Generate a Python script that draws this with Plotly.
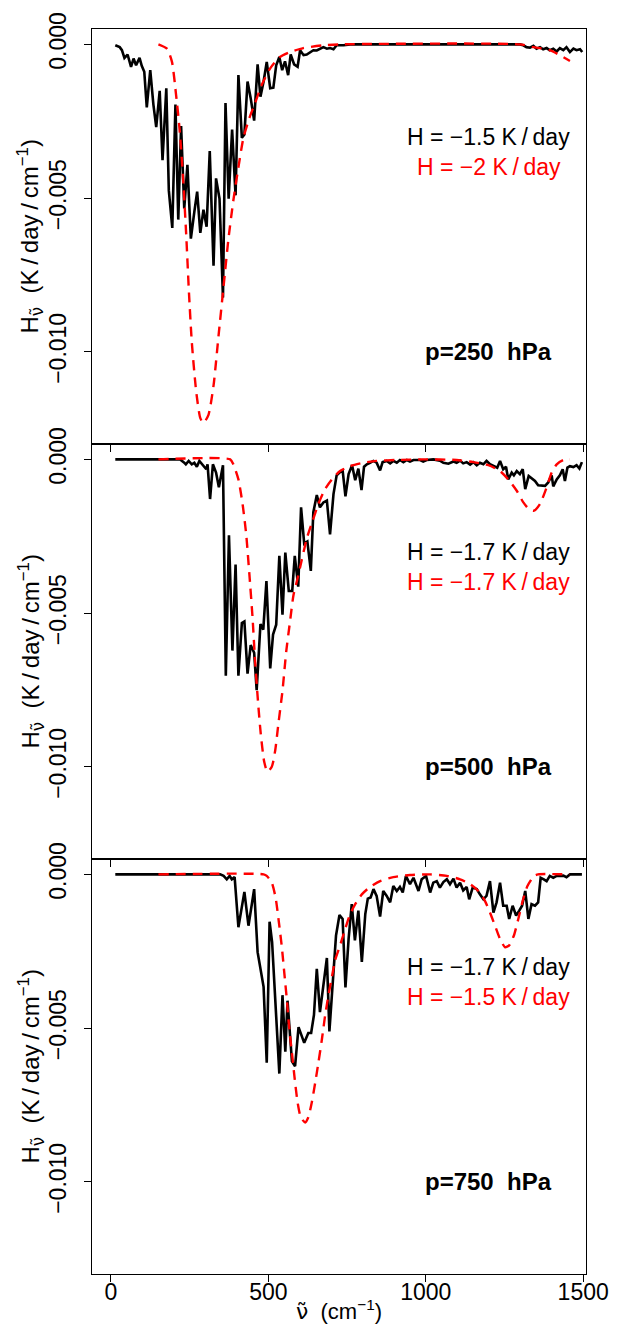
import plotly.graph_objects as go
from plotly.subplots import make_subplots

# ---------------- data (y in units of 1e-3 K/day/cm^-1) ----------------
p250_black_x = [14, 28, 35, 43, 53, 64, 72, 80, 91, 98, 106, 114, 125, 135, 144, 155, 164, 176, 184, 195,
                205, 214, 223, 233, 243, 254, 265, 274, 284, 294, 304, 314, 326, 334, 345, 356, 364, 374, 385, 396,
                405, 416, 424, 434, 444, 455, 466, 475, 485, 495, 506, 516, 525, 535, 544, 553, 563, 571, 582, 593,
                601, 612, 622, 633, 643, 654, 664, 675, 686, 696, 707, 717, 739, 760, 850, 950, 1050, 1150, 1250, 1299,
                1310, 1320, 1331, 1342, 1352, 1363, 1373, 1384, 1394, 1405, 1416, 1426, 1437, 1447, 1458, 1469, 1479, 1490, 1497]
p250_black_y = [-0.03, -0.09, -0.19, -0.44, -0.33, -0.73, -0.46, -0.68, -0.44, -0.70,
                -0.89, -2.05, -0.84, -1.96, -2.69, -1.51, -3.77, -1.43, -4.75, -5.97,
                -1.96, -5.70, -2.66, -5.34, -3.92, -6.32, -5.45, -4.79, -6.13, -5.38,
                -5.93, -3.47, -7.20, -4.36, -5.02, -8.24, -1.91, -5.02, -2.77, -4.91,
                -1.00, -3.04, -2.93, -1.21, -1.75, -2.48, -0.65, -1.70, -1.21, -0.57,
                -1.43, -1.41, -0.68, -0.41, -0.84, -0.55, -1.00, -0.33, -0.65, -0.73,
                -0.19, -0.35, -0.33, -0.27, -0.19, -0.20, -0.14, -0.09, -0.14, -0.12,
                -0.16, -0.03, -0.03, 0, 0, 0, 0, 0, 0, 0,
                -0.03, -0.09, -0.11, -0.05, -0.14, -0.09, -0.16, -0.12, -0.19, -0.14,
                -0.23, -0.12, -0.19, -0.09, -0.25, -0.14, -0.19, -0.16, -0.25]
p250_red_x = [151, 178, 194, 207, 218, 229, 239, 248, 257, 271, 284, 294, 310, 326, 342, 358, 373, 389, 405, 421,
              440, 458, 479, 506, 537, 569, 611, 675, 728, 1299, 1342, 1394, 1458]
p250_red_y = [0, -0.14, -0.57, -1.64, -2.74, -4.32, -6.15, -8.08, -9.69, -11.3,
              -12.16, -12.32, -12.05, -11.1, -9.47, -7.86, -6.36, -5.07, -4.0, -3.04,
              -2.39, -1.91, -1.32, -0.78, -0.41, -0.25, -0.12, -0.03, 0, 0, -0.09, -0.19, -0.54]

p500_black_x = [14, 220, 231, 238, 247, 257, 265, 273, 281, 289, 296, 303, 307, 315, 324, 334, 343, 356, 365, 375,
                386, 396, 405, 416, 424, 434, 444, 455, 463, 475, 484, 494, 506, 515, 525, 535, 545, 554, 565, 576,
                584, 595, 604, 614, 624, 635, 643, 654, 664, 675, 686, 696, 707, 717, 728, 736, 745, 755, 766, 776,
                786, 796, 804, 813, 823, 834, 844, 855, 863, 876, 887, 897, 908, 918, 929, 940, 950, 961, 982, 992,
                1003, 1024, 1045, 1056, 1072, 1088, 1098, 1109, 1119, 1130, 1141, 1151, 1162, 1172, 1183, 1193, 1204, 1215, 1227, 1236,
                1246, 1255, 1262, 1273, 1280, 1289, 1299, 1308, 1316, 1327, 1336, 1347, 1357, 1368, 1379, 1389, 1400, 1405, 1416, 1426,
                1435, 1442, 1450, 1458, 1469, 1479, 1488, 1496]
p500_black_y = [0, 0, -0.09, -0.16, -0.05, -0.16, -0.11, -0.24, -0.05, -0.16,
                -0.22, -0.32, -0.16, -1.29, -0.16, -0.43, -0.91, -0.19, -7.04, -2.47,
                -6.22, -3.42, -7.04, -5.32, -5.27, -6.97, -6.04, -6.29, -7.51, -5.36,
                -5.54, -3.96, -6.80, -5.70, -5.38, -3.14, -5.05, -3.03, -4.28, -4.28,
                -3.14, -4.14, -1.56, -2.74, -2.67, -3.63, -1.72, -1.16, -1.56, -1.40,
                -1.34, -2.44, -1.13, -0.52, -0.41, -0.36, -1.20, -0.48, -0.19, -0.68,
                -0.30, -1.00, -0.24, -0.16, -0.11, -0.05, -0.11, -0.36, -0.09, -0.05,
                -0.13, -0.05, -0.11, -0.02, -0.09, -0.02, -0.07, -0.02, -0.02, -0.07,
                -0.02, 0, -0.04, -0.11, -0.14, -0.07, -0.11, -0.04, -0.13, -0.09,
                -0.17, -0.09, -0.19, -0.11, -0.16, -0.05, -0.16, -0.22, -0.27, -0.05,
                -0.32, -0.24, -0.65, -0.43, -0.52, -0.38, -0.48, -0.32, -0.97, -0.54,
                -0.62, -0.70, -0.84, -0.86, -0.86, -0.75, -0.52, -0.88, -0.65, -0.52,
                -0.32, -0.70, -0.27, -0.22, -0.25, -0.19, -0.30, -0.09]
p500_red_x = [151, 379, 389, 405, 419, 430, 440, 450, 458, 467, 476, 487, 497, 511, 522, 532, 545, 557, 569, 580,
              593, 606, 622, 641, 659, 680, 702, 728, 760, 802, 844, 908, 992, 1098, 1151, 1199, 1236, 1262, 1289, 1310,
              1329, 1344, 1363, 1382, 1400, 1416, 1437, 1458]
p500_red_y = [0, 0, -0.16, -0.65, -1.51, -2.47, -3.76, -5.16, -6.56, -7.85,
              -8.93, -9.84, -10.16, -10.0, -9.46, -8.60, -7.53, -6.24, -5.27, -4.41,
              -3.87, -3.28, -2.58, -1.99, -1.45, -0.97, -0.65, -0.38, -0.22, -0.11,
              -0.05, -0.02, 0, -0.02, -0.09, -0.19, -0.38, -0.65, -1.02, -1.40,
              -1.63, -1.67, -1.45, -0.97, -0.43, -0.16, -0.02, 0]

p750_black_x = [14, 347, 358, 368, 377, 384, 393, 405, 424, 437, 455, 466, 485, 495, 504, 512, 535, 545, 554, 561,
                575, 585, 596, 614, 627, 636, 645, 654, 664, 686, 694, 715, 726, 736, 745, 755, 765, 775, 786, 797,
                808, 816, 825, 834, 844, 855, 865, 876, 887, 897, 908, 918, 927, 937, 950, 961, 977, 987, 1001, 1014,
                1024, 1035, 1045, 1056, 1067, 1077, 1088, 1098, 1109, 1119, 1130, 1138, 1149, 1162, 1172, 1183, 1193, 1204, 1215, 1225,
                1236, 1246, 1257, 1265, 1276, 1287, 1297, 1306, 1316, 1326, 1336, 1347, 1357, 1365, 1375, 1384, 1394, 1405, 1416, 1437,
                1447, 1458, 1479, 1496]
p750_black_y = [0, 0, -0.05, -0.16, -0.05, -0.16, -0.09, -1.72, -0.57, -1.67,
                -0.48, -2.53, -3.66, -6.13, -1.54, -2.20, -6.48, -3.93, -5.77, -4.11,
                -6.08, -6.24, -4.97, -5.48, -5.16, -5.16, -4.57, -3.07, -4.48, -2.72,
                -5.11, -1.99, -1.32, -1.45, -3.68, -2.10, -0.97, -2.15, -1.18, -2.85,
                -1.29, -0.79, -0.75, -0.48, -0.70, -1.37, -0.54, -0.70, -0.91, -0.38,
                -0.54, -0.41, -0.59, -0.05, -0.32, -0.11, -0.54, -0.16, -0.05, -0.59,
                -0.27, -0.22, -0.43, -0.25, -0.16, -0.32, -0.14, -0.43, -0.27, -0.52,
                -0.41, -0.81, -0.43, -0.48, -0.65, -0.81, -0.70, -0.22, -1.24, -0.91,
                -0.27, -1.02, -1.02, -1.45, -1.02, -1.34, -1.18, -1.02, -0.54, -1.45,
                -0.97, -1.02, -0.91, -0.11, -0.16, -0.22, -0.05, -0.11, -0.05, -0.04,
                -0.09, 0, 0, 0]
p750_red_x = [151, 485, 495, 511, 523, 533, 543, 551, 559, 566, 575, 584, 593, 603, 617, 627, 638, 649, 659, 670,
              680, 691, 702, 712, 726, 741, 758, 776, 797, 823, 855, 897, 950, 1014, 1067, 1109, 1141, 1167, 1188, 1204,
              1220, 1236, 1252, 1265, 1280, 1294, 1308, 1323, 1344, 1357, 1458]
p750_red_y = [0, 0, -0.05, -0.27, -0.75, -1.51, -2.37, -3.23, -4.09, -4.95,
              -5.81, -6.67, -7.42, -7.90, -8.07, -7.90, -7.42, -6.77, -6.13, -5.38,
              -4.62, -3.93, -3.33, -2.80, -2.37, -1.88, -1.34, -0.97, -0.65, -0.41,
              -0.22, -0.09, -0.02, 0, -0.05, -0.16, -0.32, -0.54, -0.86, -1.24,
              -1.67, -2.10, -2.37, -2.31, -1.99, -1.45, -0.86, -0.38, -0.05, 0, 0]

panel_labels = ["p=250  hPa", "p=500  hPa", "p=750  hPa"]
black_labels = ["H = \u22121.5 K\u2009/\u2009day", "H = \u22121.7 K\u2009/\u2009day", "H = \u22121.7 K\u2009/\u2009day"]
red_labels = ["H = \u22122 K\u2009/\u2009day", "H = \u22121.7 K\u2009/\u2009day", "H = \u22121.5 K\u2009/\u2009day"]

x_ticks = [0, 500, 1000, 1500]
y_ticks = [0, -0.005, -0.010]
y_ticktext = ["0.000", "\u22120.005", "\u22120.010"]

SCALE = 1e-3
panels = [
    (p250_black_x, p250_black_y, p250_red_x, p250_red_y),
    (p500_black_x, p500_black_y, p500_red_x, p500_red_y),
    (p750_black_x, p750_black_y, p750_red_x, p750_red_y),
]

FONT = "Liberation Sans, Arial, Helvetica, sans-serif"
NU = '<span style="font-family:DejaVu Sans">\u03bd\u0303</span>'

fig = make_subplots(rows=3, cols=1, vertical_spacing=0)

for i, (bx, by, rx, ry) in enumerate(panels, start=1):
    fig.add_trace(go.Scatter(x=bx, y=[v * SCALE for v in by], mode="lines",
                             line=dict(color="black", width=2.6), showlegend=False),
                  row=i, col=1)
    fig.add_trace(go.Scatter(x=rx, y=[v * SCALE for v in ry], mode="lines",
                             line=dict(color="#ff0000", width=2.4, dash="10px,7px",
                                       shape="spline", smoothing=0.6),
                             showlegend=False),
                  row=i, col=1)

    fig.update_xaxes(range=[-60, 1509], tickvals=x_ticks, ticks="outside", ticklen=7,
                     tickwidth=1.2, tickcolor="black", showline=True, linecolor="black",
                     linewidth=1.3, mirror=True, showgrid=False, zeroline=False,
                     showticklabels=(i == 3), ticklabelstandoff=-10,
                     tickfont=dict(size=23, color="black", family=FONT),
                     row=i, col=1)
    fig.update_yaxes(range=[-0.013, 0.0005], tickvals=y_ticks, ticktext=y_ticktext,
                     ticks="outside", ticklen=7, tickwidth=1.2, tickcolor="black",
                     showline=True, linecolor="black", linewidth=1.3, mirror=True,
                     showgrid=False, zeroline=False, tickangle=-90, ticklabelstandoff=9,
                     tickfont=dict(size=23, color="black", family=FONT),
                     row=i, col=1)

    xr = "x" if i == 1 else f"x{i}"
    yr = "y" if i == 1 else f"y{i}"
    fig.add_annotation(x=1200, y=-0.003, xref=xr, yref=yr, text=black_labels[i - 1],
                       showarrow=False, font=dict(size=23, color="black", family=FONT))
    fig.add_annotation(x=1200, y=-0.004, xref=xr, yref=yr, text=red_labels[i - 1],
                       showarrow=False, font=dict(size=23, color="#ff0000", family=FONT))
    fig.add_annotation(x=1200, y=-0.010, xref=xr, yref=yr, text="<b>" + panel_labels[i - 1] + "</b>",
                       showarrow=False, font=dict(size=24, color="black", family=FONT))
    # y-axis title for each panel
    fig.add_annotation(x=-0.1255, y=1 - (i - 0.5) / 3, xref="paper", yref="paper",
                       text="H<sub>" + NU + "</sub>  (K\u2009/\u2009day\u2009/\u2009cm<sup>\u22121</sup>)",
                       textangle=-90, showarrow=False, xanchor="center", yanchor="middle",
                       font=dict(size=24, color="black", family=FONT))

fig.add_annotation(x=0.5, y=-0.029, xref="paper", yref="paper",
                   text=NU + "  (cm<sup>\u22121</sup>)", showarrow=False,
                   xanchor="center", yanchor="middle",
                   font=dict(size=22, color="black", family=FONT))

fig.update_layout(width=621, height=1330, margin=dict(l=92, r=35, t=20, b=56),
                  paper_bgcolor="white", plot_bgcolor="white",
                  font=dict(family=FONT, color="black"))

fig.write_html("out.html")
